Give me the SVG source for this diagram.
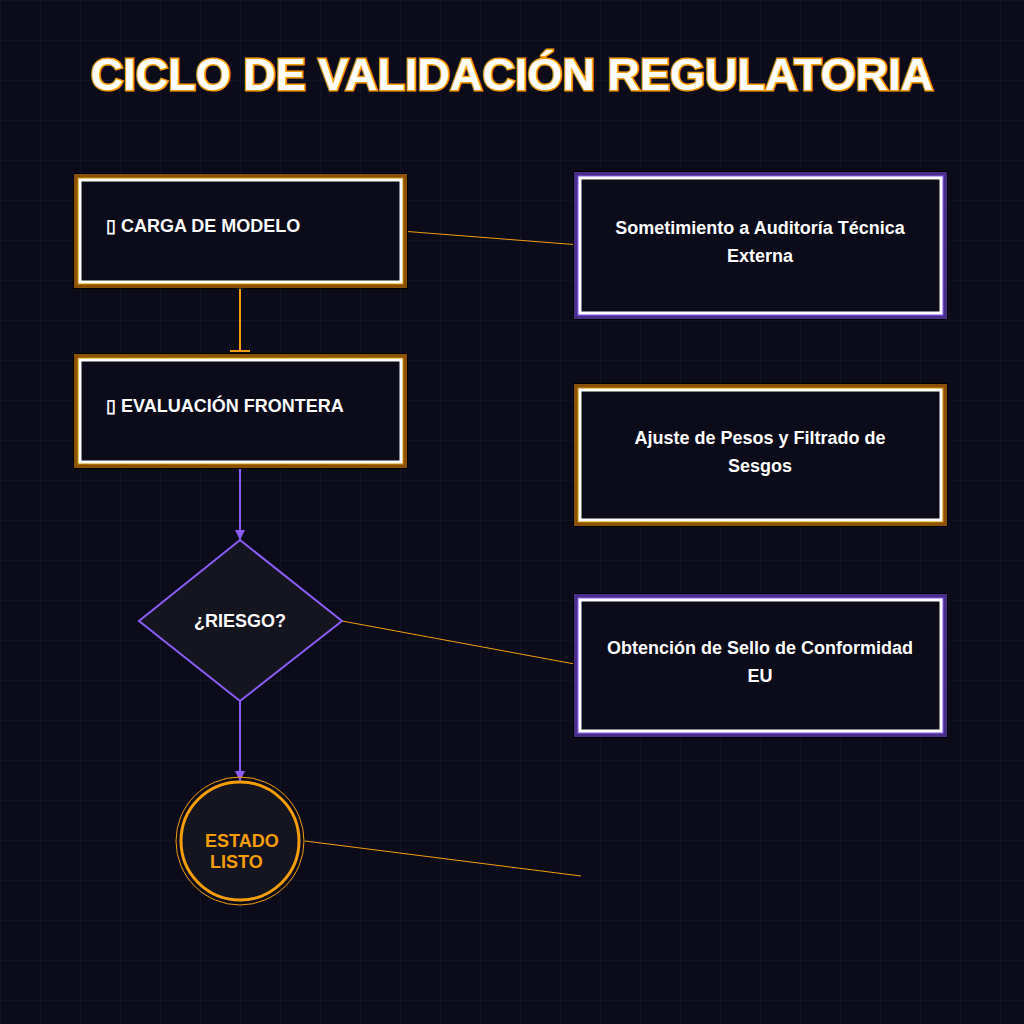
<svg xmlns="http://www.w3.org/2000/svg" width="1024" height="1024" viewBox="0 0 1024 1024">
<defs>
<pattern id="grid" width="40" height="40" patternUnits="userSpaceOnUse"><path d="M40 0H0V40" fill="none" stroke="#1a1a30" stroke-width="1"/></pattern>
<marker id="ap" viewBox="0 0 10 10" refX="10" refY="5" markerWidth="10" markerHeight="20" markerUnits="userSpaceOnUse" orient="auto"><path d="M0 0L10 5L0 10Z" fill="#8b5cf6"/></marker>
<style>
.t{font-family:"Liberation Sans",Arial,sans-serif;font-weight:bold;fill:#fff}
.ow{fill:#0b0b1a;stroke:#000;stroke-width:2}
.o1{fill:none;stroke:#8a5200;stroke-width:6}
.o2{fill:none;stroke:#d08a00;stroke-width:2}
.p1{fill:none;stroke:#4a2f8a;stroke-width:6}
.p2{fill:none;stroke:#8b5cf6;stroke-width:2}
.in{fill:#0b0b1a;stroke:#fff;stroke-width:3}
</style>
</defs>
<rect width="1024" height="1024" fill="#0b0b1a"/>
<rect width="1024" height="1024" fill="url(#grid)"/>
<text x="512" y="90" text-anchor="middle" class="t" font-size="45" style="fill:#fff;stroke:#f59e0b;stroke-width:3;paint-order:stroke">CICLO DE VALIDACIÓN REGULATORIA</text>
<g id="connectors" fill="none">
<path d="M240 283V351" stroke="#f59e0b" stroke-width="2"/>
<path d="M230 351H250" stroke="#f59e0b" stroke-width="2"/>
<path d="M240 462V540" stroke="#8b5cf6" stroke-width="2" marker-end="url(#ap)"/>
<path d="M240 701V781" stroke="#8b5cf6" stroke-width="2" marker-end="url(#ap)"/>
<path d="M401 231L580 245" stroke="#f59e0b" stroke-width="1"/>
<path d="M342 621L580 665" stroke="#f59e0b" stroke-width="1"/>
<path d="M305 841L581 876" stroke="#f59e0b" stroke-width="1"/>
</g>
<g id="n1"><rect x="74" y="174" width="333" height="114" class="ow"/><rect x="77" y="177" width="327" height="108" class="o1"/><rect x="78.5" y="178.5" width="324" height="105" class="o2"/><rect x="80" y="180" width="321" height="102" class="in"/><text x="106" y="232" class="t" font-size="18">▯ CARGA DE MODELO</text></g>
<g id="n2"><rect x="74" y="354" width="333" height="114" class="ow"/><rect x="77" y="357" width="327" height="108" class="o1"/><rect x="78.5" y="358.5" width="324" height="105" class="o2"/><rect x="80" y="360" width="321" height="102" class="in"/><text x="106" y="412" class="t" font-size="18">▯ EVALUACIÓN FRONTERA</text></g>
<g id="n3"><path d="M240 540L342 621L240 701L139 621Z" fill="#15151f" stroke="#8b5cf6" stroke-width="2"/><text x="240" y="627" text-anchor="middle" class="t" font-size="18">¿RIESGO?</text></g>
<g id="n4"><circle cx="240" cy="841" r="64" fill="none" stroke="#f59e0b" stroke-width="1"/><circle cx="240" cy="841" r="59" fill="#15151f" stroke="#f59e0b" stroke-width="3"/><text class="t" font-size="18" style="fill:#f59e0b"><tspan x="205" y="847">ESTADO</tspan><tspan x="210" y="868">LISTO</tspan></text></g>
<g id="r1"><rect x="574" y="172" width="373" height="147" class="ow"/><rect x="577" y="175" width="367" height="141" class="p1"/><rect x="578.5" y="176.5" width="364" height="138" class="p2"/><rect x="580" y="178" width="361" height="135" class="in"/><text class="t" font-size="18" text-anchor="middle"><tspan x="760" y="234">Sometimiento a Auditoría Técnica</tspan><tspan x="760" y="262">Externa</tspan></text></g>
<g id="r2"><rect x="574" y="384" width="373" height="142" class="ow"/><rect x="577" y="387" width="367" height="136" class="o1"/><rect x="578.5" y="388.5" width="364" height="133" class="o2"/><rect x="580" y="390" width="361" height="130" class="in"/><text class="t" font-size="18" text-anchor="middle"><tspan x="760" y="444">Ajuste de Pesos y Filtrado de</tspan><tspan x="760" y="472">Sesgos</tspan></text></g>
<g id="r3"><rect x="574" y="594" width="373" height="143" class="ow"/><rect x="577" y="597" width="367" height="137" class="p1"/><rect x="578.5" y="598.5" width="364" height="134" class="p2"/><rect x="580" y="600" width="361" height="131" class="in"/><text class="t" font-size="18" text-anchor="middle"><tspan x="760" y="654">Obtención de Sello de Conformidad</tspan><tspan x="760" y="682">EU</tspan></text></g>
</svg>
